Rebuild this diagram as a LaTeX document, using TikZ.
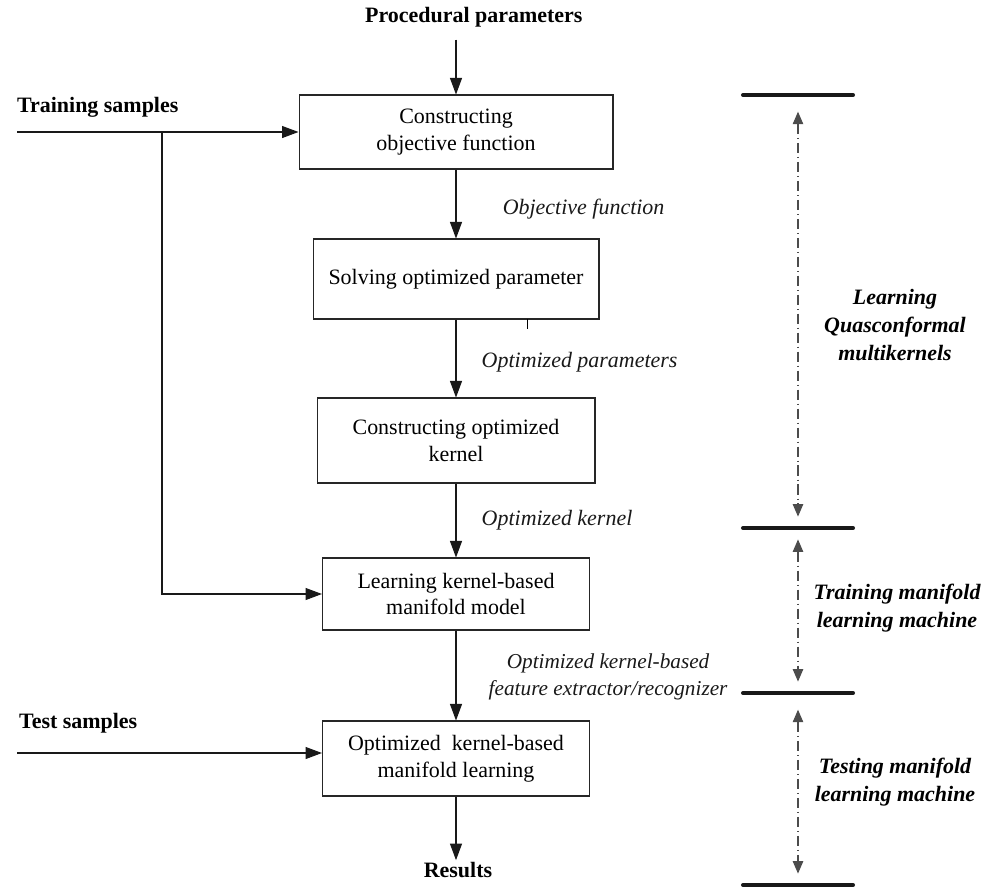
\documentclass[tikz,border=0pt]{standalone}
\usepackage{fontspec}
\setmainfont{Liberation Serif}
\usetikzlibrary{arrows.meta,calc}

\begin{document}
\begin{tikzpicture}[
  x=0.02cm, y=-0.02cm,
  font=\fontsize{12.5}{15.3}\selectfont,
  bx/.style  ={draw=black!85, line width=0.6pt, align=center, inner sep=2pt},
  lbl/.style ={font=\fontsize{12.5}{15.3}\selectfont\itshape, align=center},
  hd/.style  ={font=\fontsize{12.5}{15.3}\selectfont\bfseries, inner sep=1pt},
  ph/.style  ={font=\fontsize{12.5}{15.8}\selectfont\bfseries\itshape, align=center},
  ar/.style  ={-{Triangle[length=3.3mm,width=2.4mm]}, line width=0.6pt, black!90},
  dd/.style  ={{Triangle[length=2.5mm,width=2.1mm]}-{Triangle[length=2.5mm,width=2.1mm]},
               black!70, line width=0.6pt, dash pattern=on 6pt off 2pt on 0.8pt off 2pt},
  bar/.style ={line width=2.3pt, line cap=round, black!90}
]
\useasboundingbox (0,0) rectangle (998,887);

% ---------- main flow ----------
\node[hd, anchor=west] (pp) at (363,17) {Procedural parameters};
\node[bx, minimum width=6.28cm, minimum height=1.48cm] (c1) at (456,132)
  {Constructing\\objective function};
\node[bx, minimum width=5.72cm, minimum height=1.6cm]  (c2) at (456,279)
  {Solving optimized parameter};
\node[bx, minimum width=5.56cm, minimum height=1.7cm]  (c3) at (456,440.5)
  {Constructing optimized\\kernel};
\node[bx, minimum width=5.34cm, minimum height=1.44cm] (c4) at (456,594)
  {Learning kernel-based\\manifold model};
\node[bx, minimum width=5.34cm, minimum height=1.5cm]  (c5) at (456,758.5)
  {Optimized~~kernel-based\\manifold learning};
\node[hd] (res) at (458,870) {Results};

\draw[ar, shorten <=6pt] (pp.south -| c1.north) -- (c1.north);
\draw[ar] (c1) -- node[lbl, anchor=west, pos=0.5, xshift=23pt, yshift=-3pt]{Objective function} (c2);
\draw[ar] (c2) -- node[lbl, anchor=west, pos=0.5, xshift=11pt, yshift=-2pt]{Optimized parameters} (c3);
\draw[ar] (c3) -- node[lbl, anchor=west, pos=0.5, xshift=11pt, yshift=0pt]{Optimized kernel} (c4);
\draw[ar] (c4) -- node[lbl, anchor=west, pos=0.5, xshift=15pt, yshift=-1pt,
  font=\fontsize{12.1}{15.3}\selectfont\itshape]
  {Optimized kernel-based\\feature extractor/recognizer} (c5);
\draw[ar] (c5) -- (c5.south |- res.north);
\draw[line width=0.5pt] (527,319) -- (527,329);

% ---------- inputs ----------
\node[hd, anchor=west] (trs) at (15,107) {Training samples};
\node[hd, anchor=west] (tes) at (17,723) {Test samples};
\coordinate (tin) at (17,132);
\coordinate (br)  at (162,132);
\coordinate (ein) at (17,753);

\draw[ar] (tin) -- (c1.west);
\draw[ar] (br) |- (c4.west);
\draw[ar] (ein) -- (ein -| c5.west);

% ---------- stages ----------
\coordinate (b0) at (798,95);
\coordinate (b1) at (798,528);
\coordinate (b2) at (798,693);
\coordinate (b3) at (798,885);
\foreach \b in {b0,b1,b2,b3}
  \draw[bar] ($(\b)+(-55,0)$) -- ($(\b)+(55,0)$);

\draw[dd, shorten <=9.5pt, shorten >=6.5pt] (b0) -- (b1);
\draw[dd, shorten <=6.5pt, shorten >=6.5pt] (b1) -- (b2);
\draw[dd, shorten <=9.5pt, shorten >=6.5pt] (b2) -- (b3);

\node[ph] (lq) at (895,325) {Learning\\Quasconformal\\multikernels};
\node[ph] (tm) at (897,608) {Training manifold\\learning machine};
\node[ph] (sm) at (895,782) {Testing manifold\\learning machine};
\end{tikzpicture}
\end{document}
